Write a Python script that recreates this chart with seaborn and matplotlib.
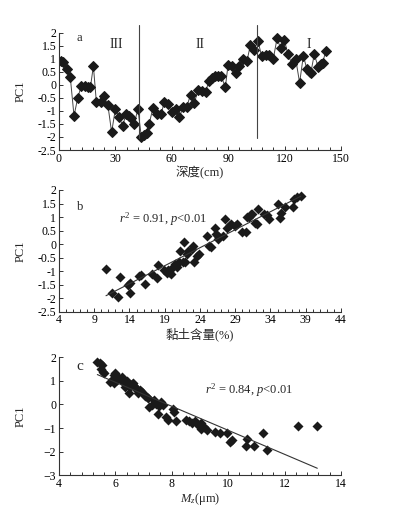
import numpy as np
import pandas as pd
import matplotlib
matplotlib.use("Agg")
import matplotlib.pyplot as plt
import seaborn as sns
from matplotlib.ticker import MultipleLocator

# --- dane ---

# a: PC1 w funkcji glebokosci
glebokosc = [1.1, 2.3, 4.1, 6.0, 8.0, 10.0, 11.9, 13.8, 15.4, 16.7, 18.3, 19.9, 22.2, 23.9,
             26.0, 28.0, 30.0, 31.9, 33.9, 35.6, 37.0, 38.3, 40.0, 42.0, 43.8, 45.4, 46.6,
             48.0, 50.0, 52.0, 54.4, 56.0, 58.2, 59.9, 62.0, 64.0, 66.0, 67.9, 70.0, 72.0,
             73.9, 75.9, 78.0, 79.8, 81.4, 83.0, 84.6, 86.3, 88.5, 89.9, 91.8, 94.0, 95.7,
             97.9, 100.0, 101.8, 103.7, 105.9, 107.8, 109.9, 111.9, 114.0, 116.0, 117.9,
             119.9, 121.8, 124.0, 125.9, 128.0, 130.0, 131.9, 133.3, 133.9, 135.8, 137.8,
             139.2, 140.2, 142.0]
pc1_a = [0.93, 0.89, 0.59, 0.30, -1.19, -0.49, -0.04, -0.04, -0.07, -0.10, 0.72, -0.67,
         -0.67, -0.43, -0.77, -1.82, -0.93, -1.22, -1.58, -1.13, -1.19, -1.26, -1.49, -0.93,
         -1.99, -1.92, -1.83, -1.49, -0.88, -1.11, -1.11, -0.66, -0.75, -1.06, -0.94, -1.25,
         -0.86, -0.85, -0.38, -0.71, -0.21, -0.22, -0.26, 0.15, 0.26, 0.33, 0.34, 0.34,
         -0.10, 0.75, 0.73, 0.45, 0.73, 0.98, 0.91, 1.53, 1.34, 1.68, 1.09, 1.16, 1.13,
         1.00, 1.78, 1.40, 1.72, 1.17, 0.79, 1.00, 0.08, 1.12, 0.59, 0.50, 0.44, 1.17,
         0.70, 0.79, 0.85, 1.30]
granice_stref = [42.5, 105.5]
nazwy_stref = ["III", "II", "I"]
pozycje_stref = [30.7, 75.0, 133.0]

# b: PC1 a zawartosc ilu
il = [10.67, 11.56, 12.4, 12.65, 13.8, 14.07, 14.07, 15.4, 15.7, 16.15, 17.2, 17.85, 18.0,
      18.9, 19.3, 19.4, 19.65, 19.84, 20.0, 20.45, 20.7, 21.02, 21.2, 21.55, 21.8, 21.9,
      22.2, 22.35, 22.8, 23.0, 23.2, 23.6, 23.9, 24.97, 25.3, 25.5, 26.1, 26.3, 26.5,
      26.6, 27.2, 27.56, 27.8, 28.2, 28.4, 29.0, 29.3, 30.0, 30.5, 30.7, 31.0, 31.2,
      31.4, 31.85, 32.04, 32.3, 33.07, 33.45, 33.74, 35.1, 35.4, 35.5, 36.06, 37.2, 37.4,
      37.7, 38.3]
pc1_b = [-0.92, -1.81, -1.94, -1.21, -1.52, -1.45, -1.81, -1.18, -1.15, -1.48, -1.11, -1.26,
         -0.78, -0.96, -1.08, -0.94, -1.02, -1.12, -0.87, -0.75, -0.83, -0.68, -0.26, -0.68,
         0.09, -0.68, -0.35, -0.26, -0.18, -0.06, -0.68, -0.44, -0.38, 0.31, -0.06, -0.11,
         0.60, 0.36, 0.17, 0.31, 0.30, 0.93, 0.60, 0.70, 0.74, 0.68, 0.76, 0.46, 0.46,
         0.99, 1.01, 1.10, 1.12, 0.79, 0.74, 1.29, 1.13, 1.07, 0.92, 1.50, 0.97, 1.16,
         1.36, 1.36, 1.66, 1.73, 1.79]

# c: PC1 a srednia srednica ziarna Mz
mz = [5.36, 5.45, 5.51, 5.49, 5.55, 5.6, 5.81, 5.9, 5.94, 5.95, 6.01, 5.99, 6.07, 6.13,
      6.19, 6.22, 6.28, 6.3, 6.34, 6.4, 6.47, 6.52, 6.58, 6.61, 6.66, 6.72, 6.75, 6.81,
      6.87, 6.93, 7.05, 7.11, 7.17, 7.19, 7.29, 7.37, 7.43, 7.5, 7.56, 7.62, 7.7, 7.78,
      7.88, 8.04, 8.09, 8.15, 8.5, 8.62, 8.7, 8.82, 8.98, 9.02, 9.05, 9.14, 9.24, 9.53,
      9.71, 9.95, 10.06, 10.15, 10.65, 10.63, 10.92, 11.25, 11.37, 12.49, 13.16]
pc1_c = [1.80, 1.75, 1.67, 1.49, 1.39, 1.32, 0.97, 1.07, 0.93, 1.25, 1.18, 1.32, 1.04, 1.11,
         1.07, 1.18, 1.04, 0.90, 0.76, 1.01, 0.47, 0.76, 0.85, 0.93, 0.79, 0.69, 0.62, 0.47,
         0.62, 0.55, 0.36, 0.33, 0.26, -0.09, -0.02, 0.19, 0.02, -0.40, -0.05, 0.09, -0.02,
         -0.54, -0.65, -0.20, -0.30, -0.68, -0.65, -0.72, -0.80, -0.72, -0.91, -0.79, -1.05,
         -0.97, -1.08, -1.15, -1.22, -1.22, -1.57, -1.50, -1.47, -1.78, -1.78, -1.22, -1.92,
         -0.91, -0.91]

# --- styl ---
sns.set_style("ticks")
plt.rcParams["font.family"] = ["Liberation Serif", "Noto Sans CJK SC"]
plt.rcParams["mathtext.fontset"] = "custom"
plt.rcParams["mathtext.rm"] = "Liberation Serif"
plt.rcParams["mathtext.it"] = "Liberation Serif:italic"
plt.rcParams["font.size"] = 8.5

kolor = "#1a1a1a"


def uklad_osi(ax):
    sns.despine(ax=ax)
    for s in ["left", "bottom"]:
        ax.spines[s].set_linewidth(0.8)
        ax.spines[s].set_color("#333333")
    ax.tick_params(axis="both", which="both", direction="in", labelsize=8.5,
                   colors="#333333", labelcolor="black", width=0.7)
    ax.tick_params(axis="both", which="major", length=3, pad=2)
    ax.tick_params(axis="x", which="minor", length=2)
    ax.tick_params(axis="y", which="minor", left=False)
    ax.set_ylabel("PC1", fontsize=9)
    ax.yaxis.set_label_coords(-0.113, 0.5)


fig = plt.figure(figsize=(3.94, 5.16), dpi=100)
ax_a = fig.add_axes([0.1497, 0.7093, 0.7157, 0.2273])
ax_b = fig.add_axes([0.1497, 0.3959, 0.7157, 0.2359])
ax_c = fig.add_axes([0.1497, 0.0789, 0.7157, 0.2287])

# a
df_a = pd.DataFrame({"glebokosc": glebokosc, "pc1": pc1_a})
sns.lineplot(data=df_a, x="glebokosc", y="pc1", sort=False, ax=ax_a, color="#444444",
             linewidth=0.7, marker="D", markersize=5, markerfacecolor=kolor,
             markeredgecolor=kolor)
for g in granice_stref:
    ax_a.plot([g, g], [-2.05, 2.3], color="#444444", linewidth=0.8, clip_on=False)
for nazwa, xp in zip(nazwy_stref, pozycje_stref):
    ax_a.text(xp, 1.55, nazwa, ha="center", va="center", fontsize=10)
ax_a.text(10.6, 1.81, "a", ha="center", va="center", fontsize=9)
ax_a.set_xlim(0, 150)
ax_a.set_ylim(-2.5, 2)
ax_a.xaxis.set_major_locator(MultipleLocator(30))
ax_a.xaxis.set_minor_locator(MultipleLocator(6))
ax_a.yaxis.set_major_locator(MultipleLocator(0.5))
ax_a.set_yticklabels([f"{v:g}" for v in ax_a.get_yticks()])
ax_a.set_xlabel("深度(cm)", fontsize=9, labelpad=1)
uklad_osi(ax_a)

# b
df_b = pd.DataFrame({"il": il, "pc1": pc1_b})
sns.regplot(data=df_b, x="il", y="pc1", ax=ax_b, ci=None, truncate=True, marker="D",
            scatter_kws={"s": 26, "color": kolor, "linewidths": 0, "alpha": 1},
            line_kws={"color": "#333333", "linewidth": 0.8})
ax_b.text(12.5, 0.91, r"$r^2$ = 0.91, $p$<0.01", ha="left", va="center", fontsize=9)
ax_b.text(7.0, 1.36, "b", ha="center", va="center", fontsize=9)
ax_b.set_xlim(4, 44)
ax_b.set_ylim(-2.5, 2)
ax_b.set_xticks(range(4, 45, 5))
ax_b.xaxis.set_minor_locator(MultipleLocator(1))
ax_b.yaxis.set_major_locator(MultipleLocator(0.5))
ax_b.set_yticklabels([f"{v:g}" for v in ax_b.get_yticks()])
ax_b.set_xlabel("黏土含量(%)", fontsize=9, labelpad=1)
uklad_osi(ax_b)

# c
df_c = pd.DataFrame({"mz": mz, "pc1": pc1_c})
sns.regplot(data=df_c, x="mz", y="pc1", ax=ax_c, ci=None, truncate=True, marker="D",
            scatter_kws={"s": 26, "color": kolor, "linewidths": 0, "alpha": 1},
            line_kws={"color": "#333333", "linewidth": 0.8})
ax_c.text(9.18, 0.59, r"$r^2$ = 0.84, $p$<0.01", ha="left", va="center", fontsize=9)
ax_c.text(4.74, 1.63, "c", ha="center", va="center", fontsize=11)
ax_c.set_xlim(4, 14)
ax_c.set_ylim(-3, 2)
ax_c.xaxis.set_major_locator(MultipleLocator(2))
ax_c.xaxis.set_minor_locator(MultipleLocator(0.4))
ax_c.yaxis.set_major_locator(MultipleLocator(1))
ax_c.set_xlabel(r"$M_z$(μm)", fontsize=9, labelpad=1)
uklad_osi(ax_c)

fig.savefig("out.png", dpi=100)
